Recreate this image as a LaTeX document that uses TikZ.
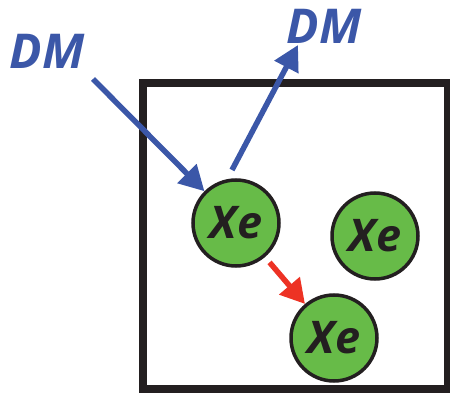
\documentclass[tikz,border=0pt]{standalone}
\usepackage{fontspec}
\setmainfont{Open Sans}
\usetikzlibrary{arrows.meta}
\definecolor{dmblue}{RGB}{59,87,168}
\definecolor{xegreen}{RGB}{103,187,72}
\definecolor{hitred}{RGB}{237,50,36}
\definecolor{boxblack}{RGB}{35,31,32}
\tikzset{
  xenon/.style={circle,draw=boxblack,line width=3.5pt,fill=xegreen,minimum size=86pt,inner sep=0pt,
    font=\fontsize{45}{45}\selectfont\bfseries\itshape,text=boxblack},
  dmlabel/.style={font=\fontsize{48}{48}\selectfont\bfseries\itshape,text=dmblue,inner sep=0pt},
  dmarrow/.style={draw=dmblue,line width=5.5pt,-{Triangle[length=25pt,width=26pt]}},
  redarrow/.style={draw=hitred,line width=5.5pt,-{Triangle[length=24pt,width=26pt]}},
}
\begin{document}
\begin{tikzpicture}[x=1pt,y=-1pt]
\useasboundingbox (0,0) rectangle (450,393);
\draw[boxblack,line width=7.5pt] (143,83) rectangle (447.5,389);
\node[xenon] (x1) at (236,223) {Xe};
\node[xenon] (x2) at (375,236) {Xe};
\node[xenon] (x3) at (334,338) {Xe};
\node[dmlabel] (dm1) at (47,51) {DM};
\node[dmlabel] (dm2) at (324,26) {DM};
\coordinate (s1) at (93,79);
\coordinate (s2) at (232,170);
\coordinate (e2) at (298,45);
\draw[dmarrow] (s1) -- (x1);
\draw[dmarrow] (s2) -- (e2);
\draw[redarrow,shorten <=7pt] (x1) -- (x3);
\end{tikzpicture}
\end{document}
